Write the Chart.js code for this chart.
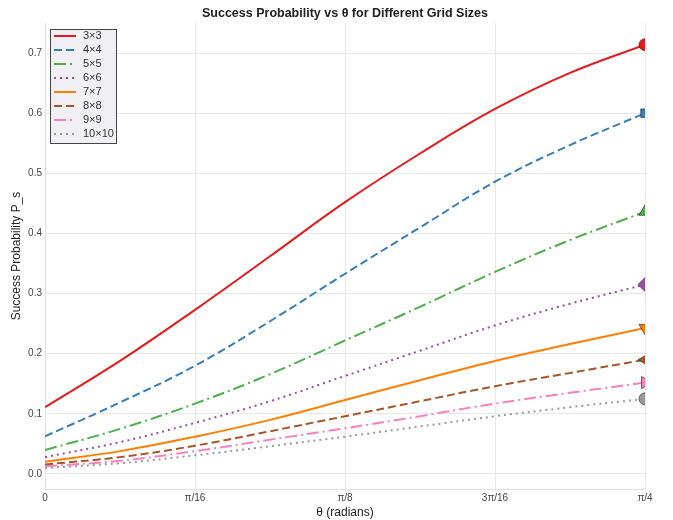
<!DOCTYPE html>
<html>
<head>
<meta charset="utf-8">
<script src="https://cdn.jsdelivr.net/npm/chart.js@4/dist/chart.umd.min.js"></script>
<style>
  html, body { margin: 0; padding: 0; background: #ffffff; }
  #wrap { width: 673px; height: 520px; position: relative; }
</style>
</head>
<body>
<div id="wrap"><canvas id="c" width="673" height="520"></canvas></div>
<script>
// θ sample positions, in units of π/32
const thetaSteps = [0, 1, 2, 3, 4, 5, 6, 7, 8];
// x-axis tick positions (units of π/16) and their labels
const xTickSteps = [0, 1, 2, 3, 4];
const xTickLabels = ['0', 'π/16', 'π/8', '3π/16', 'π/4'];
const yTickValues = [0, 0.1, 0.2, 0.3, 0.4, 0.5, 0.6, 0.7];

const gridLabels = ['3×3', '4×4', '5×5', '6×6', '7×7', '8×8', '9×9', '10×10'];

// success probability for each grid size at θ = thetaSteps·π/32
const ps3x3   = [0.111, 0.188, 0.273, 0.362, 0.452, 0.533, 0.607, 0.667, 0.714];
const ps4x4   = [0.0625, 0.119, 0.180, 0.254, 0.333, 0.410, 0.486, 0.547, 0.600];
const ps5x5   = [0.040, 0.075, 0.117, 0.166, 0.222, 0.278, 0.336, 0.389, 0.436];
const ps6x6   = [0.028, 0.053, 0.085, 0.121, 0.163, 0.205, 0.247, 0.283, 0.315];
const ps7x7   = [0.0205, 0.038, 0.062, 0.090, 0.123, 0.156, 0.188, 0.216, 0.243];
const ps8x8   = [0.0158, 0.028, 0.047, 0.071, 0.096, 0.121, 0.146, 0.168, 0.190];
const ps9x9   = [0.0125, 0.022, 0.038, 0.057, 0.076, 0.096, 0.117, 0.135, 0.152];
const ps10x10 = [0.010, 0.018, 0.031, 0.046, 0.062, 0.079, 0.096, 0.111, 0.125];

const seriesValues = [ps3x3, ps4x4, ps5x5, ps6x6, ps7x7, ps8x8, ps9x9, ps10x10];

const colors = ['#e41a1c', '#377eb8', '#4daf4a', '#984ea3', '#ff7f00', '#a65628', '#f781bf', '#999999'];
const dashes = [[], [8, 4], [12, 4, 2, 4], [2, 4], [], [8, 4], [12, 4, 2, 4], [2, 4]];
const markers = [
  { style: 'circle', rot: 0, r: 6 },
  { style: 'rect', rot: 0, r: 6 },
  { style: 'triangle', rot: 0, r: 7 },
  { style: 'rectRot', rot: 0, r: 7 },
  { style: 'triangle', rot: 180, r: 7 },
  { style: 'triangle', rot: -90, r: 7 },
  { style: 'triangle', rot: 90, r: 7 },
  { style: 'circle', rot: 0, r: 6 }
];

const FONT = '"Liberation Sans", Arial, Helvetica, sans-serif';

const datasets = seriesValues.map((vals, i) => ({
  label: gridLabels[i],
  data: vals.map((v, k) => ({ x: thetaSteps[k] * Math.PI / 32, y: v })),
  borderColor: colors[i],
  backgroundColor: colors[i],
  borderWidth: 2,
  borderDash: dashes[i],
  tension: 0.4,
  clip: 0,
  pointStyle: markers[i].style,
  pointRotation: markers[i].rot,
  pointRadius: ctx => (ctx.dataIndex === vals.length - 1 ? markers[i].r : 0),
  pointHoverRadius: 0,
  pointBorderColor: 'rgba(40,40,40,0.8)',
  pointBorderWidth: 0.8,
  pointBackgroundColor: colors[i]
}));

// Title and in-plot legend
const decorations = {
  id: 'decorations',
  afterDraw(chart) {
    const ctx = chart.ctx;
    const area = chart.chartArea;
    ctx.save();
    // title
    ctx.fillStyle = '#222';
    ctx.font = 'bold 12.5px ' + FONT;
    ctx.textAlign = 'center';
    ctx.textBaseline = 'middle';
    ctx.fillText('Success Probability vs θ for Different Grid Sizes', (area.left + area.right) / 2, 14);

    // legend box
    const bx = 50.5, by = 29.5, bw = 66, bh = 114;
    ctx.fillStyle = 'rgba(238,238,243,0.9)';
    ctx.fillRect(bx, by, bw, bh);
    ctx.strokeStyle = '#444';
    ctx.lineWidth = 1;
    ctx.strokeRect(bx, by, bw, bh);

    ctx.font = '11px ' + FONT;
    ctx.textAlign = 'left';
    ctx.textBaseline = 'middle';
    chart.data.datasets.forEach((ds, i) => {
      const y = 36 + i * 14;
      ctx.beginPath();
      ctx.setLineDash(ds.borderDash);
      ctx.strokeStyle = ds.borderColor;
      ctx.lineWidth = ds.borderWidth;
      ctx.moveTo(54, y);
      ctx.lineTo(76, y);
      ctx.stroke();
      ctx.setLineDash([]);
      ctx.fillStyle = '#333';
      ctx.fillText(ds.label, 83, y);
    });
    ctx.restore();
  }
};

new Chart(document.getElementById('c'), {
  type: 'line',
  data: { datasets },
  plugins: [decorations],
  options: {
    responsive: false,
    animation: false,
    layout: { padding: { left: 9, right: 28, top: 23, bottom: 0 } },
    plugins: {
      legend: { display: false },
      title: { display: false },
      tooltip: { enabled: false }
    },
    scales: {
      x: {
        type: 'linear',
        min: 0,
        max: Math.PI / 4,
        afterBuildTicks: s => { s.ticks = xTickSteps.map(k => ({ value: k * Math.PI / 16 })); },
        afterFit: s => { s.height = 31; },
        ticks: {
          callback: (v, idx) => xTickLabels[idx],
          color: '#444',
          font: { family: FONT, size: 10 },
          padding: 3,
          maxRotation: 0,
          autoSkip: false
        },
        grid: { color: '#e8e8e8', lineWidth: 1, drawTicks: false },
        border: { display: true, color: '#e0e0e0' },
        title: {
          display: true,
          text: 'θ (radians)',
          color: '#222',
          font: { family: FONT, size: 12 },
          padding: { top: 1, bottom: 0 }
        }
      },
      y: {
        type: 'linear',
        min: -0.025,
        max: 0.75,
        afterBuildTicks: s => { s.ticks = yTickValues.map(v => ({ value: v })); },
        afterFit: s => { s.width = 36; },
        ticks: {
          callback: v => v.toFixed(1),
          color: '#444',
          font: { family: FONT, size: 10 },
          padding: 3
        },
        grid: { color: '#e8e8e8', lineWidth: 1, drawTicks: false },
        border: { display: true, color: '#e0e0e0' },
        title: {
          display: true,
          text: 'Success Probability P_s',
          color: '#222',
          font: { family: FONT, size: 12 },
          padding: { top: 0, bottom: 4 }
        }
      }
    }
  }
});
</script>
</body>
</html>
